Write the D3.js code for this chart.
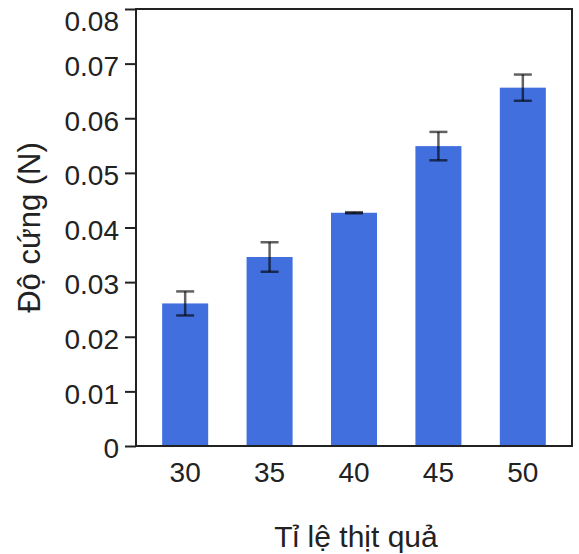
<!DOCTYPE html>
<html>
<head>
<meta charset="utf-8">
<script src="https://cdn.jsdelivr.net/npm/d3@7"></script>
<style>
  body { margin: 0; background: #fff; }
  svg text { font-family: "Liberation Sans", Arial, sans-serif; fill: #222; }
</style>
</head>
<body>
<svg width="579" height="554"></svg>
<script>
// data
let categories = ["30", "35", "40", "45", "50"];
let means = [0.0261, 0.0346, 0.0427, 0.0549, 0.0656];
let errors = [0.0022, 0.0027, 0.0001, 0.0026, 0.0024];
let yTicks = [0, 0.01, 0.02, 0.03, 0.04, 0.05, 0.06, 0.07, 0.08];

let svg = d3.select("svg");
let mLeft = 136, mRight = 572, mTop = 9, mBottom = 446;

let x = d3.scaleBand()
    .domain(categories)
    .range([mLeft, mRight])
    .paddingInner(0.455)
    .paddingOuter(0.31);

let y = d3.scaleLinear()
    .domain([0, 0.08])
    .range([mBottom, mTop]);

// bars
svg.append("g")
  .selectAll("rect")
  .data(means)
  .enter().append("rect")
    .attr("x", function(d, i) { return x(categories[i]); })
    .attr("y", function(d) { return y(d); })
    .attr("width", x.bandwidth())
    .attr("height", function(d) { return y(0) - y(d); })
    .attr("fill", "#4170de");

// error bars
let eb = svg.append("g")
    .attr("stroke", "rgba(0,0,0,0.62)")
    .attr("stroke-width", 2.5);
means.forEach(function(m, i) {
  let cx = x(categories[i]) + x.bandwidth() / 2;
  let hi = y(m + errors[i]), lo = y(m - errors[i]);
  eb.append("line").attr("x1", cx).attr("x2", cx).attr("y1", hi).attr("y2", lo);
  eb.append("line").attr("x1", cx - 9).attr("x2", cx + 9).attr("y1", hi).attr("y2", hi);
  eb.append("line").attr("x1", cx - 9).attr("x2", cx + 9).attr("y1", lo).attr("y2", lo);
});

// frame
svg.append("rect")
    .attr("x", mLeft).attr("y", mTop)
    .attr("width", mRight - mLeft).attr("height", mBottom - mTop)
    .attr("fill", "none")
    .attr("stroke", "#222")
    .attr("stroke-width", 2);

// y axis
let yAxis = svg.append("g")
    .attr("transform", "translate(" + mLeft + ",0)")
    .call(d3.axisLeft(y).tickValues(yTicks).tickSize(11).tickPadding(6)
      .tickFormat(function(d) { return d === 0 ? "0" : d3.format(".2f")(d); }));
yAxis.select(".domain").remove();
yAxis.selectAll("line").attr("stroke", "#222").attr("stroke-width", 2);
yAxis.selectAll("text").attr("font-size", 28).attr("fill", "#222")
    .attr("font-family", "Liberation Sans, Arial, sans-serif")
    .attr("dy", "0.42em");
// top label sits pushed down inside the picture
yAxis.selectAll("text").filter(function(d) { return d === 0.08; })
    .attr("dy", "0.78em");

// x axis
let xAxis = svg.append("g")
    .attr("transform", "translate(0," + mBottom + ")")
    .call(d3.axisBottom(x).tickSize(0).tickPadding(16));
xAxis.select(".domain").remove();
xAxis.selectAll("text").attr("font-size", 28).attr("fill", "#222")
    .attr("font-family", "Liberation Sans, Arial, sans-serif");

// titles
svg.append("text")
    .attr("x", (mLeft + mRight) / 2 + 2)
    .attr("y", 547)
    .attr("text-anchor", "middle")
    .attr("font-size", 30)
    .text("Tỉ lệ thịt quả");

svg.append("text")
    .attr("transform", "translate(40," + (mTop + mBottom) / 2 + ") rotate(-90)")
    .attr("text-anchor", "middle")
    .attr("font-size", 31)
    .text("Độ cứng (N)");
</script>
</body>
</html>
